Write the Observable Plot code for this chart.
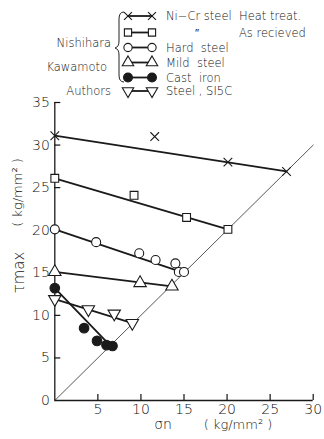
<!DOCTYPE html>
<html><head><meta charset="utf-8">
<script src="https://cdn.jsdelivr.net/npm/d3@7"></script>
<script src="https://cdn.jsdelivr.net/npm/@observablehq/plot@0.6"></script>
<style>
html,body{margin:0;padding:0;background:#fff}
#wrap{position:relative;width:324px;height:439px;overflow:hidden}
#legend{position:absolute;left:0;top:0}
</style></head><body><div id="wrap"></div>
<script>
const FONT = '"DejaVu Sans", sans-serif';
const INK = "#111";
const xTicks = [5, 10, 15, 20, 25, 30];
const yTicks = [0, 5, 10, 15, 20, 25, 30, 35];

// series: symbol, fill, rotation
const seriesKeys = ["nicrHT", "nicrAR", "hard", "mild", "cast", "s15c"];
const seriesSymbols = ["times", "square", "circle", "triangle", "circle", "triangle"];
const seriesFilled = [false, false, false, false, true, false];
const seriesRotate = [0, 0, 0, 0, 0, 180];
const seriesR = [4, 4.4, 4.5, 4.6, 4.8, 4.6];

// measured points (sigma_n, tau_max)
const ptsNiCrHT = [[0, 31.1], [11.6, 31.0], [20.1, 28.0], [26.9, 26.9]];
const ptsNiCrAR = [[0, 26.1], [9.2, 24.1], [15.3, 21.5], [20.1, 20.1]];
const ptsHard = [[0, 20.1], [4.8, 18.6], [9.8, 17.3], [11.7, 16.5], [14.0, 16.1], [14.4, 15.1], [15.0, 15.1]];
const ptsMild = [[0, 15.1], [9.9, 13.8], [13.6, 13.4]];
const ptsCast = [[0, 13.2], [3.4, 8.5], [4.9, 7.0], [6.0, 6.5], [6.7, 6.4]];
const ptsS15C = [[0, 11.9], [3.9, 10.7], [6.9, 10.2], [9.0, 9.1]];

// fitted lines
const fitNiCrHT = [[0, 31.1], [26.9, 26.9]];
const fitNiCrAR = [[0, 26.1], [20.1, 20.1]];
const fitHard = [[0, 20.1], [15.0, 15.0]];
const fitMild = [[0, 15.1], [13.6, 13.4]];
const fitCast = [[0, 13.2], [6.3, 6.6]];
const fitS15C = [[0, 11.9], [9.0, 9.1]];

// limit line tau = sigma
const limitLine = [[0, 0], [30, 30]];

// legend text
const legendLabels = ["Ni\u2212Cr steel", "\u2033", "Hard  steel", "Mild  steel", "Cast  iron", "Steel , SI5C"];
const legendNotes = ["Heat treat.", "As recieved", "", "", "", ""];
const legendAuthors = ["Nishihara", "Kawamoto", "Authors"];

const allPts = [ptsNiCrHT, ptsNiCrAR, ptsHard, ptsMild, ptsCast, ptsS15C];
const allFits = [fitNiCrHT, fitNiCrAR, fitHard, fitMild, fitCast, fitS15C];

const fitRows = allFits.flatMap((f, i) => f.map(([x, y]) => ({x, y, s: seriesKeys[i]})));

const dotMarks = allPts.map((p, i) => Plot.dot(p, {
  x: d => d[0], y: d => d[1],
  symbol: seriesSymbols[i],
  r: seriesR[i],
  fill: seriesSymbols[i] === "times" ? "none" : (seriesFilled[i] ? "#1a1a1a" : "white"),
  stroke: "#1a1a1a",
  strokeWidth: 1.1,
  rotate: seriesRotate[i]
}));

const chart = Plot.plot({
  width: 324, height: 439,
  marginTop: 102, marginBottom: 39, marginLeft: 54.3, marginRight: 11.3,
  x: {domain: [0, 30]},
  y: {domain: [0, 35]},
  style: {fontFamily: FONT, fontSize: "14px", fontWeight: 200, background: "white", color: INK},
  marks: [
    Plot.line(limitLine, {x: d => d[0], y: d => d[1], stroke: "#444", strokeWidth: 0.9}),
    Plot.ruleX([0], {y1: 0, y2: 35, stroke: "#1a1a1a", strokeWidth: 1.3}),
    Plot.ruleY([0], {x1: 0, x2: 30, stroke: "#1a1a1a", strokeWidth: 1.3}),
    Plot.axisY({ticks: yTicks, tickSize: 0, tickPadding: 5, label: null, fontSize: 14, fill: INK}),
    Plot.axisY({ticks: yTicks.filter(d => d > 0), text: null, tickSize: 6, dx: 6, label: null, strokeWidth: 1.2}),
    Plot.axisX({ticks: xTicks, tickSize: 0, tickPadding: 4, label: null, fontSize: 14, fill: INK}),
    Plot.axisX({ticks: xTicks, text: null, tickSize: 6, dy: -6, label: null, strokeWidth: 1.2}),
    Plot.line(fitRows, {x: "x", y: "y", z: "s", stroke: "#1a1a1a", strokeWidth: 1.8}),
    ...dotMarks,
    Plot.text(["\u03c4max"], {frameAnchor: "left", textAnchor: "middle", dx: -36, dy: 21, rotate: -90, fontSize: 15, fill: INK}),
    Plot.text(["( kg/mm\u00b2 )"], {frameAnchor: "left", textAnchor: "middle", dx: -37, dy: -59, rotate: -90, fontSize: 13, fill: INK}),
    Plot.text(["\u03c3n"], {frameAnchor: "bottom", textAnchor: "middle", dx: -21, dy: 28, fontSize: 14, fill: INK}),
    Plot.text(["( kg/mm\u00b2 )"], {frameAnchor: "bottom", textAnchor: "middle", dx: 54, dy: 28, fontSize: 13, fill: INK})
  ]
});

const wrap = document.getElementById("wrap");
wrap.appendChild(chart);

// legend
const rowY = [16, 32.5, 47.5, 62.5, 77.5, 91];
const lg = d3.select(wrap).append("svg").attr("id", "legend")
  .attr("width", 324).attr("height", 100)
  .style("font-family", FONT).style("font-size", "11.5px").style("font-weight", 200);
const symMap = {times: d3.symbolTimes, square: d3.symbolSquare, circle: d3.symbolCircle, triangle: d3.symbolTriangle};
seriesKeys.forEach((k, i) => {
  const y = rowY[i];
  lg.append("line").attr("x1", 128).attr("x2", 152).attr("y1", y).attr("y2", y)
    .attr("stroke", "#1a1a1a").attr("stroke-width", 1.8);
  [128, 152].forEach(x => {
    lg.append("path")
      .attr("d", d3.symbol(symMap[seriesSymbols[i]], Math.PI * seriesR[i] * seriesR[i] * 0.85)())
      .attr("transform", `translate(${x},${y}) rotate(${seriesRotate[i]})`)
      .attr("fill", seriesSymbols[i] === "times" ? "none" : (seriesFilled[i] ? "#1a1a1a" : "white"))
      .attr("stroke", "#1a1a1a").attr("stroke-width", 1.1);
  });
  lg.append("text").attr("x", i === 1 ? 195 : 166).attr("y", y).attr("dy", "0.36em")
    .attr("xml:space", "preserve").style("white-space", "pre").attr("fill", INK).text(legendLabels[i]);
  if (legendNotes[i]) lg.append("text").attr("x", 239).attr("y", y).attr("dy", "0.36em")
    .attr("fill", INK).text(legendNotes[i]);
});
const authY = [43, 67, 91];
const authX = [111, 107, 111];
legendAuthors.forEach((t, i) => {
  lg.append("text").attr("x", authX[i]).attr("y", authY[i]).attr("dy", "0.36em")
    .attr("text-anchor", "end").attr("fill", INK).text(t);
});
lg.append("path")
  .attr("d", "M124,12 Q119,12 119,19 L119,41 Q119,47 115,48 Q119,49 119,55 L119,75 Q119,82 124,82")
  .attr("fill", "none").attr("stroke", "#222").attr("stroke-width", 1);
</script></body></html>
